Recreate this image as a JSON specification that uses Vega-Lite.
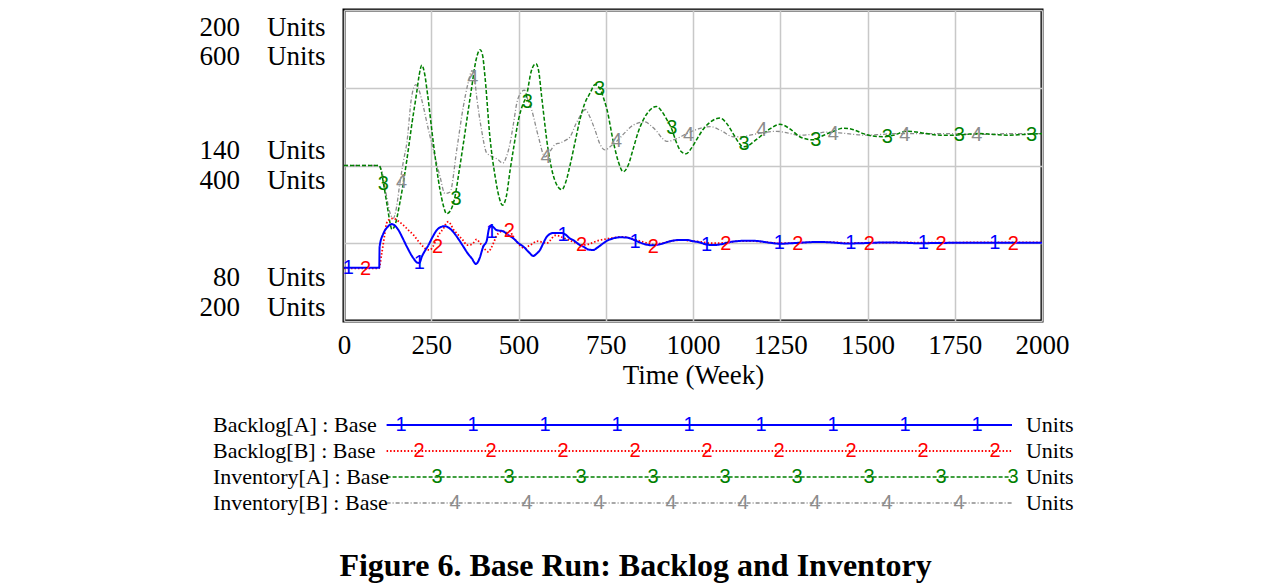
{
"$schema": "https://vega.github.io/schema/vega-lite/v6.json",
"background": "white",
"autosize": {"type": "pad"},
"padding": {"left": 197, "top": 8, "right": 10, "bottom": 5},
"config": {"font": "Liberation Serif", "view": {"stroke": null}},
"title": {"text": "Figure 6. Base Run: Backlog and Inventory", "orient": "bottom", "anchor": "middle", "frame": "bounds", "font": "Liberation Serif", "fontSize": 32, "fontWeight": "bold", "color": "black", "offset": 35},
"datasets": {
"backlog": [
{"s":"2","t":0,"v":100.3},{"s":"2","t":100,"v":100.3},{"s":"2","t":108,"v":106},{"s":"2","t":115,"v":112},{"s":"2","t":122,"v":117.7},{"s":"2","t":131,"v":119.2},{"s":"2","t":141,"v":119.6},{"s":"2","t":155,"v":118.6},{"s":"2","t":170,"v":117},{"s":"2","t":185,"v":115},{"s":"2","t":199,"v":113.2},{"s":"2","t":213,"v":110.8},{"s":"2","t":227,"v":108.7},{"s":"2","t":237,"v":107.6},{"s":"2","t":246,"v":107.4},{"s":"2","t":256,"v":109},{"s":"2","t":266,"v":111.9},{"s":"2","t":275,"v":114},{"s":"2","t":285,"v":115.7},{"s":"2","t":292,"v":117.5},{"s":"2","t":299,"v":118.3},{"s":"2","t":306,"v":117.3},{"s":"2","t":313,"v":115.4},{"s":"2","t":322,"v":114},{"s":"2","t":332,"v":112.5},{"s":"2","t":342,"v":111},{"s":"2","t":352,"v":109.3},{"s":"2","t":362,"v":109.4},{"s":"2","t":371,"v":110.2},{"s":"2","t":380,"v":111.5},{"s":"2","t":390,"v":110},{"s":"2","t":399,"v":108.7},{"s":"2","t":407,"v":107.2},{"s":"2","t":414,"v":106.7},{"s":"2","t":421,"v":108},{"s":"2","t":428,"v":110},{"s":"2","t":437,"v":112.8},{"s":"2","t":447,"v":114.4},{"s":"2","t":456,"v":114.7},{"s":"2","t":465,"v":114},{"s":"2","t":474,"v":114.8},{"s":"2","t":485,"v":112.5},{"s":"2","t":495,"v":110.6},{"s":"2","t":505,"v":109},{"s":"2","t":519,"v":108},{"s":"2","t":530,"v":109},{"s":"2","t":542,"v":110},{"s":"2","t":552,"v":110.8},{"s":"2","t":562,"v":110.6},{"s":"2","t":572,"v":110.3},{"s":"2","t":581,"v":110},{"s":"2","t":590,"v":111},{"s":"2","t":605,"v":113},{"s":"2","t":616,"v":112.8},{"s":"2","t":628,"v":112.1},{"s":"2","t":640,"v":111.5},{"s":"2","t":657,"v":110.5},{"s":"2","t":670,"v":109.8},{"s":"2","t":681,"v":109.3},{"s":"2","t":700,"v":109.6},{"s":"2","t":728,"v":111},{"s":"2","t":745,"v":111.5},{"s":"2","t":762,"v":111.9},{"s":"2","t":780,"v":112.3},{"s":"2","t":800,"v":112.5},{"s":"2","t":820,"v":111.9},{"s":"2","t":838,"v":111.2},{"s":"2","t":860,"v":110.4},{"s":"2","t":886,"v":109.5},{"s":"2","t":910,"v":110},{"s":"2","t":943,"v":111},{"s":"2","t":970,"v":111.2},{"s":"2","t":1000,"v":110.8},{"s":"2","t":1020,"v":110.6},{"s":"2","t":1050,"v":110},{"s":"2","t":1094,"v":110.2},{"s":"2","t":1130,"v":110.8},{"s":"2","t":1170,"v":110.8},{"s":"2","t":1220,"v":110.3},{"s":"2","t":1260,"v":110},{"s":"2","t":1300,"v":110.1},{"s":"2","t":1350,"v":110.5},{"s":"2","t":1400,"v":110.4},{"s":"2","t":1450,"v":110.1},{"s":"2","t":1500,"v":110.2},{"s":"2","t":1600,"v":110.3},{"s":"2","t":1700,"v":110.2},{"s":"2","t":1800,"v":110.3},{"s":"2","t":2000,"v":110.3},
{"s":"1","t":0,"v":100.5},{"s":"1","t":101,"v":100.5},{"s":"1","t":102,"v":108.7},{"s":"1","t":113,"v":113.8},{"s":"1","t":125,"v":116.3},{"s":"1","t":137,"v":117.4},{"s":"1","t":146,"v":116.8},{"s":"1","t":156,"v":115.1},{"s":"1","t":168,"v":112},{"s":"1","t":180,"v":108.7},{"s":"1","t":199,"v":104.2},{"s":"1","t":210,"v":102.5},{"s":"1","t":216,"v":102.4},{"s":"1","t":223,"v":104.8},{"s":"1","t":242,"v":109.3},{"s":"1","t":255,"v":112.7},{"s":"1","t":266,"v":115.1},{"s":"1","t":278,"v":116.3},{"s":"1","t":289,"v":116.6},{"s":"1","t":300,"v":116},{"s":"1","t":313,"v":114.4},{"s":"1","t":327,"v":111.8},{"s":"1","t":342,"v":108.7},{"s":"1","t":355,"v":106},{"s":"1","t":366,"v":104.2},{"s":"1","t":378,"v":102},{"s":"1","t":388,"v":104},{"s":"1","t":399,"v":108.7},{"s":"1","t":409,"v":111},{"s":"1","t":416,"v":115.8},{"s":"1","t":423,"v":116.6},{"s":"1","t":437,"v":115.1},{"s":"1","t":456,"v":114.6},{"s":"1","t":470,"v":113.2},{"s":"1","t":485,"v":111.9},{"s":"1","t":500,"v":110},{"s":"1","t":514,"v":108.7},{"s":"1","t":530,"v":106.5},{"s":"1","t":542,"v":105.1},{"s":"1","t":552,"v":106},{"s":"1","t":562,"v":107.5},{"s":"1","t":571,"v":110},{"s":"1","t":581,"v":112.5},{"s":"1","t":600,"v":114},{"s":"1","t":624,"v":114},{"s":"1","t":635,"v":113.3},{"s":"1","t":647,"v":111.9},{"s":"1","t":657,"v":111.2},{"s":"1","t":676,"v":109.3},{"s":"1","t":686,"v":108.7},{"s":"1","t":700,"v":107.6},{"s":"1","t":714,"v":107.4},{"s":"1","t":728,"v":108.5},{"s":"1","t":743,"v":110},{"s":"1","t":757,"v":111.2},{"s":"1","t":772,"v":111.9},{"s":"1","t":790,"v":112.3},{"s":"1","t":810,"v":112.2},{"s":"1","t":829,"v":111.4},{"s":"1","t":848,"v":110.3},{"s":"1","t":866,"v":109.5},{"s":"1","t":886,"v":109.2},{"s":"1","t":905,"v":109.6},{"s":"1","t":925,"v":110.4},{"s":"1","t":943,"v":111},{"s":"1","t":960,"v":111.3},{"s":"1","t":982,"v":111.3},{"s":"1","t":1000,"v":110.8},{"s":"1","t":1020,"v":110.3},{"s":"1","t":1039,"v":109.5},{"s":"1","t":1058,"v":109.3},{"s":"1","t":1080,"v":109.6},{"s":"1","t":1100,"v":110.3},{"s":"1","t":1135,"v":110.9},{"s":"1","t":1160,"v":111},{"s":"1","t":1182,"v":110.9},{"s":"1","t":1220,"v":110.2},{"s":"1","t":1250,"v":109.8},{"s":"1","t":1280,"v":110},{"s":"1","t":1320,"v":110.3},{"s":"1","t":1360,"v":110.5},{"s":"1","t":1400,"v":110.3},{"s":"1","t":1440,"v":109.9},{"s":"1","t":1480,"v":110},{"s":"1","t":1550,"v":110.3},{"s":"1","t":1600,"v":110.2},{"s":"1","t":1650,"v":110},{"s":"1","t":1700,"v":110.1},{"s":"1","t":1800,"v":110.2},{"s":"1","t":1900,"v":110.2},{"s":"1","t":2000,"v":110.2}
],
"inventory": [
{"s":"4","t":0,"v":400},{"s":"4","t":100,"v":400},{"s":"4","t":110,"v":390},{"s":"4","t":120,"v":365},{"s":"4","t":130,"v":342},{"s":"4","t":141,"v":332},{"s":"4","t":150,"v":345},{"s":"4","t":160,"v":377},{"s":"4","t":170,"v":405},{"s":"4","t":180,"v":429},{"s":"4","t":194,"v":489},{"s":"4","t":206,"v":504},{"s":"4","t":215,"v":497},{"s":"4","t":223,"v":484},{"s":"4","t":242,"v":446},{"s":"4","t":256,"v":420},{"s":"4","t":275,"v":386},{"s":"4","t":289,"v":364},{"s":"4","t":304,"v":366},{"s":"4","t":323,"v":420},{"s":"4","t":342,"v":476},{"s":"4","t":355,"v":505},{"s":"4","t":367,"v":522},{"s":"4","t":374,"v":512},{"s":"4","t":380,"v":489},{"s":"4","t":394,"v":446},{"s":"4","t":409,"v":416},{"s":"4","t":428,"v":411},{"s":"4","t":440,"v":408},{"s":"4","t":455,"v":403},{"s":"4","t":466,"v":412},{"s":"4","t":476,"v":429},{"s":"4","t":486,"v":455},{"s":"4","t":495,"v":480},{"s":"4","t":506,"v":493},{"s":"4","t":517,"v":497},{"s":"4","t":527,"v":484},{"s":"4","t":538,"v":471},{"s":"4","t":557,"v":437},{"s":"4","t":576,"v":411},{"s":"4","t":590,"v":418},{"s":"4","t":605,"v":427},{"s":"4","t":619,"v":429},{"s":"4","t":633,"v":432},{"s":"4","t":648,"v":437},{"s":"4","t":665,"v":454},{"s":"4","t":680,"v":466},{"s":"4","t":691,"v":472},{"s":"4","t":705,"v":462},{"s":"4","t":719,"v":446},{"s":"4","t":733,"v":428},{"s":"4","t":748,"v":420},{"s":"4","t":765,"v":425},{"s":"4","t":781,"v":431},{"s":"4","t":800,"v":440},{"s":"4","t":829,"v":452},{"s":"4","t":862,"v":456},{"s":"4","t":880,"v":451},{"s":"4","t":896,"v":444},{"s":"4","t":910,"v":436},{"s":"4","t":925,"v":431},{"s":"4","t":950,"v":434},{"s":"4","t":982,"v":441},{"s":"4","t":1015,"v":447},{"s":"4","t":1049,"v":450},{"s":"4","t":1080,"v":445},{"s":"4","t":1115,"v":437},{"s":"4","t":1140,"v":437},{"s":"4","t":1163,"v":439},{"s":"4","t":1200,"v":442},{"s":"4","t":1240,"v":444},{"s":"4","t":1270,"v":442},{"s":"4","t":1306,"v":439},{"s":"4","t":1340,"v":440},{"s":"4","t":1383,"v":443},{"s":"4","t":1420,"v":442},{"s":"4","t":1460,"v":440},{"s":"4","t":1497,"v":439},{"s":"4","t":1540,"v":440},{"s":"4","t":1574,"v":441},{"s":"4","t":1620,"v":441},{"s":"4","t":1680,"v":441},{"s":"4","t":1726,"v":441},{"s":"4","t":1800,"v":440},{"s":"4","t":1850,"v":440},{"s":"4","t":1900,"v":441},{"s":"4","t":2000,"v":441},
{"s":"3","t":0,"v":400},{"s":"3","t":100,"v":400},{"s":"3","t":105,"v":396},{"s":"3","t":113,"v":377},{"s":"3","t":125,"v":345},{"s":"3","t":132,"v":326},{"s":"3","t":137,"v":318},{"s":"3","t":145,"v":322},{"s":"3","t":160,"v":352},{"s":"3","t":180,"v":407},{"s":"3","t":195,"v":455},{"s":"3","t":208,"v":493},{"s":"3","t":215,"v":515},{"s":"3","t":223,"v":529},{"s":"3","t":231,"v":518},{"s":"3","t":239,"v":493},{"s":"3","t":256,"v":429},{"s":"3","t":275,"v":369},{"s":"3","t":285,"v":348},{"s":"3","t":294,"v":338},{"s":"3","t":305,"v":342},{"s":"3","t":318,"v":360},{"s":"3","t":330,"v":393},{"s":"3","t":342,"v":428},{"s":"3","t":355,"v":468},{"s":"3","t":366,"v":501},{"s":"3","t":378,"v":535},{"s":"3","t":390,"v":549},{"s":"3","t":397,"v":542},{"s":"3","t":404,"v":514},{"s":"3","t":418,"v":437},{"s":"3","t":433,"v":386},{"s":"3","t":444,"v":360},{"s":"3","t":454,"v":349},{"s":"3","t":465,"v":360},{"s":"3","t":476,"v":394},{"s":"3","t":488,"v":428},{"s":"3","t":500,"v":459},{"s":"3","t":512,"v":478},{"s":"3","t":523,"v":490},{"s":"3","t":537,"v":522},{"s":"3","t":550,"v":531},{"s":"3","t":558,"v":521},{"s":"3","t":566,"v":490},{"s":"3","t":585,"v":420},{"s":"3","t":604,"v":381},{"s":"3","t":624,"v":369},{"s":"3","t":635,"v":378},{"s":"3","t":647,"v":399},{"s":"3","t":662,"v":430},{"s":"3","t":676,"v":459},{"s":"3","t":690,"v":480},{"s":"3","t":705,"v":493},{"s":"3","t":719,"v":504},{"s":"3","t":733,"v":499},{"s":"3","t":745,"v":485},{"s":"3","t":753,"v":473},{"s":"3","t":772,"v":430},{"s":"3","t":786,"v":405},{"s":"3","t":800,"v":392},{"s":"3","t":814,"v":400},{"s":"3","t":829,"v":422},{"s":"3","t":843,"v":443},{"s":"3","t":858,"v":459},{"s":"3","t":876,"v":471},{"s":"3","t":895,"v":476},{"s":"3","t":910,"v":470},{"s":"3","t":925,"v":459},{"s":"3","t":939,"v":447},{"s":"3","t":953,"v":429},{"s":"3","t":966,"v":418},{"s":"3","t":980,"v":415},{"s":"3","t":995,"v":422},{"s":"3","t":1010,"v":433},{"s":"3","t":1030,"v":447},{"s":"3","t":1050,"v":456},{"s":"3","t":1077,"v":461},{"s":"3","t":1095,"v":455},{"s":"3","t":1115,"v":441},{"s":"3","t":1130,"v":430},{"s":"3","t":1144,"v":424},{"s":"3","t":1160,"v":426},{"s":"3","t":1175,"v":431},{"s":"3","t":1192,"v":437},{"s":"3","t":1220,"v":447},{"s":"3","t":1249,"v":453},{"s":"3","t":1275,"v":448},{"s":"3","t":1306,"v":437},{"s":"3","t":1325,"v":434},{"s":"3","t":1345,"v":433},{"s":"3","t":1370,"v":438},{"s":"3","t":1402,"v":444},{"s":"3","t":1431,"v":448},{"s":"3","t":1460,"v":446},{"s":"3","t":1488,"v":441},{"s":"3","t":1515,"v":438},{"s":"3","t":1545,"v":437},{"s":"3","t":1575,"v":439},{"s":"3","t":1612,"v":444},{"s":"3","t":1640,"v":443},{"s":"3","t":1669,"v":441},{"s":"3","t":1710,"v":439},{"s":"3","t":1746,"v":439},{"s":"3","t":1780,"v":440},{"s":"3","t":1820,"v":441},{"s":"3","t":1860,"v":440},{"s":"3","t":1900,"v":439},{"s":"3","t":1950,"v":440},{"s":"3","t":2000,"v":441}
],
"backlog_markers": [
{"s":"1","t":12,"v":100.5},{"s":"1","t":216,"v":102.4},{"s":"1","t":423,"v":114.4},{"s":"1","t":628,"v":113.2},{"s":"1","t":834,"v":110.6},{"s":"1","t":1039,"v":109.5},{"s":"1","t":1247,"v":110},{"s":"1","t":1452,"v":110},{"s":"1","t":1660,"v":110},{"s":"1","t":1865,"v":110},
{"s":"2","t":62,"v":100},{"s":"2","t":268,"v":108.7},{"s":"2","t":474,"v":114.8},{"s":"2","t":681,"v":109.3},{"s":"2","t":886,"v":108.7},{"s":"2","t":1094,"v":109.8},{"s":"2","t":1300,"v":109.8},{"s":"2","t":1505,"v":109.8},{"s":"2","t":1711,"v":109.8},{"s":"2","t":1918,"v":109.8}
],
"inventory_markers": [
{"s":"3","t":113,"v":376},{"s":"3","t":321,"v":357},{"s":"3","t":525,"v":482},{"s":"3","t":732,"v":499},{"s":"3","t":939,"v":448},{"s":"3","t":1146,"v":428},{"s":"3","t":1352,"v":433},{"s":"3","t":1557,"v":437},{"s":"3","t":1763,"v":439},{"s":"3","t":1970,"v":439},
{"s":"4","t":165,"v":379},{"s":"4","t":369,"v":513},{"s":"4","t":579,"v":411},{"s":"4","t":781,"v":431},{"s":"4","t":987,"v":439},{"s":"4","t":1197,"v":446},{"s":"4","t":1402,"v":441},{"s":"4","t":1607,"v":439},{"s":"4","t":1813,"v":439}
],
"legend": [
{"s":"1","name":"Backlog[A] : Base","unit":"Units"},
{"s":"2","name":"Backlog[B] : Base","unit":"Units"},
{"s":"3","name":"Inventory[A] : Base","unit":"Units"},
{"s":"4","name":"Inventory[B] : Base","unit":"Units"}
],
"legend_marks": [
{"s":"1","k":1},{"s":"1","k":2},{"s":"1","k":3},{"s":"1","k":4},{"s":"1","k":5},{"s":"1","k":6},{"s":"1","k":7},{"s":"1","k":8},{"s":"1","k":9},
{"s":"2","k":1},{"s":"2","k":2},{"s":"2","k":3},{"s":"2","k":4},{"s":"2","k":5},{"s":"2","k":6},{"s":"2","k":7},{"s":"2","k":8},{"s":"2","k":9},
{"s":"3","k":1},{"s":"3","k":2},{"s":"3","k":3},{"s":"3","k":4},{"s":"3","k":5},{"s":"3","k":6},{"s":"3","k":7},{"s":"3","k":8},{"s":"3","k":9},
{"s":"4","k":1},{"s":"4","k":2},{"s":"4","k":3},{"s":"4","k":4},{"s":"4","k":5},{"s":"4","k":6},{"s":"4","k":7},{"s":"4","k":8}
]
},
"spacing": 22,
"resolve": {"scale": {"x": "independent", "y": "independent", "color": "shared", "strokeDash": "shared", "strokeWidth": "shared"}},
"vconcat": [
{
"width": 698, "height": 311,
"view": {"stroke": "black", "strokeWidth": 3},
"resolve": {"scale": {"y": "independent"}},
"layer": [
{
"layer": [
{"data": {"name": "inventory"},
 "mark": {"type": "line", "interpolate": "monotone"},
 "encoding": {
  "x": {"field": "t", "type": "quantitative", "scale": {"domain": [0, 2000], "nice": false, "zero": false},
   "axis": {"values": [0,250,500,750,1000,1250,1500,1750,2000], "grid": true, "gridColor": "#c8c8c8", "gridWidth": 1.5, "ticks": false, "domain": false, "labelFont": "Liberation Serif", "labelFontSize": 27, "labelColor": "black", "labelPadding": 11, "labelFlush": false, "labelOverlap": false, "format": "d", "title": "Time (Week)", "titleFont": "Liberation Serif", "titleFontSize": 27, "titleFontWeight": "normal", "titleColor": "black", "titlePadding": 4}},
  "y": {"field": "v", "type": "quantitative", "scale": {"domain": [200, 600], "nice": false, "zero": false},
   "axis": {"orient": "left", "values": [200, 400, 600], "grid": false, "ticks": false, "domain": false, "title": null, "labelFont": "Liberation Serif", "labelFontSize": 27, "labelColor": "black", "labelPadding": 19, "labelBaseline": "middle", "labelOverlap": false, "labelExpr": "datum.value + '\u00a0\u00a0\u00a0\u00a0Units'",
    "labelOffset": {"condition": [{"test": "datum.value == 600", "value": 46}, {"test": "datum.value == 400", "value": 15}], "value": -14}}},
  "color": {"field": "s", "type": "nominal", "scale": {"domain": ["1","2","3","4"], "range": ["#0000ff","#ff0000","#008000","#8c8c8c"]}, "legend": null},
  "strokeDash": {"field": "s", "type": "nominal", "scale": {"domain": ["1","2","3","4"], "range": [[1,0],[1.5,2],[4,2],[4,2,1,2]]}, "legend": null},
  "strokeWidth": {"field": "s", "type": "nominal", "scale": {"domain": ["1","2","3","4"], "range": [2, 1.3, 1.6, 1.3]}, "legend": null}
 }},
{"data": {"name": "inventory_markers"},
 "mark": {"type": "text", "font": "Liberation Sans", "fontSize": 20, "align": "center", "baseline": "middle"},
 "encoding": {
  "x": {"field": "t", "type": "quantitative", "scale": {"domain": [0, 2000], "nice": false, "zero": false}},
  "y": {"field": "v", "type": "quantitative", "scale": {"domain": [200, 600], "nice": false, "zero": false}},
  "text": {"field": "s"},
  "color": {"field": "s", "type": "nominal", "scale": {"domain": ["1","2","3","4"], "range": ["#0000ff","#ff0000","#008000","#8c8c8c"]}, "legend": null}
 }}
]
},
{
"layer": [
{"data": {"name": "backlog"},
 "mark": {"type": "line", "interpolate": "monotone"},
 "encoding": {
  "x": {"field": "t", "type": "quantitative", "scale": {"domain": [0, 2000], "nice": false, "zero": false}},
  "y": {"field": "v", "type": "quantitative", "scale": {"domain": [80, 200], "nice": false, "zero": false},
   "axis": {"orient": "left", "values": [80, 110, 140, 170, 200], "grid": true, "gridColor": "#c8c8c8", "gridWidth": 1.5, "ticks": false, "domain": false, "title": null, "labelFont": "Liberation Serif", "labelFontSize": 27, "labelColor": "black", "labelPadding": 19, "labelBaseline": "middle", "labelOverlap": false,
    "labelExpr": "(datum.value == 80 || datum.value == 140 || datum.value == 200) ? datum.value + '\u00a0\u00a0\u00a0\u00a0Units' : ''",
    "labelOffset": {"condition": [{"test": "datum.value == 200", "value": 17}, {"test": "datum.value == 140", "value": -15}], "value": -44}}},
  "color": {"field": "s", "type": "nominal", "scale": {"domain": ["1","2","3","4"], "range": ["#0000ff","#ff0000","#008000","#8c8c8c"]}, "legend": null},
  "strokeDash": {"field": "s", "type": "nominal", "scale": {"domain": ["1","2","3","4"], "range": [[1,0],[1.5,2],[4,2],[4,2,1,2]]}, "legend": null},
  "strokeWidth": {"field": "s", "type": "nominal", "scale": {"domain": ["1","2","3","4"], "range": [2, 1.3, 1.6, 1.3]}, "legend": null}
 }},
{"data": {"name": "backlog_markers"},
 "mark": {"type": "text", "font": "Liberation Sans", "fontSize": 20, "align": "center", "baseline": "middle"},
 "encoding": {
  "x": {"field": "t", "type": "quantitative", "scale": {"domain": [0, 2000], "nice": false, "zero": false}},
  "y": {"field": "v", "type": "quantitative", "scale": {"domain": [80, 200], "nice": false, "zero": false}},
  "text": {"field": "s"},
  "color": {"field": "s", "type": "nominal", "scale": {"domain": ["1","2","3","4"], "range": ["#0000ff","#ff0000","#008000","#8c8c8c"]}, "legend": null}
 }}
]
}
]
},
{
"width": 698, "height": 104,
"view": {"stroke": null},
"layer": [
{"data": {"name": "legend"},
 "mark": {"type": "rule"},
 "encoding": {
  "x": {"datum": 0.8, "type": "quantitative", "scale": {"domain": [0.2083, 9.9028], "nice": false, "zero": false}, "axis": null},
  "x2": {"datum": 9.486},
  "y": {"field": "s", "type": "nominal", "scale": {"type": "point", "padding": 0.5}, "axis": null},
  "color": {"field": "s", "type": "nominal", "scale": {"domain": ["1","2","3","4"], "range": ["#0000ff","#ff0000","#008000","#8c8c8c"]}, "legend": null},
  "strokeDash": {"field": "s", "type": "nominal", "scale": {"domain": ["1","2","3","4"], "range": [[1,0],[1.5,2],[4,2],[4,2,1,2]]}, "legend": null},
  "strokeWidth": {"field": "s", "type": "nominal", "scale": {"domain": ["1","2","3","4"], "range": [2, 1.3, 1.6, 1.3]}, "legend": null}
 }},
{"data": {"name": "legend"},
 "mark": {"type": "text", "align": "left", "baseline": "middle", "font": "Liberation Serif", "fontSize": 22, "color": "black"},
 "encoding": {
  "x": {"datum": -1.611, "type": "quantitative", "scale": {"domain": [0.2083, 9.9028], "nice": false, "zero": false}, "axis": null},
  "y": {"field": "s", "type": "nominal", "scale": {"type": "point", "padding": 0.5}, "axis": null},
  "text": {"field": "name"}
 }},
{"data": {"name": "legend"},
 "mark": {"type": "text", "align": "left", "baseline": "middle", "font": "Liberation Serif", "fontSize": 22, "color": "black"},
 "encoding": {
  "x": {"datum": 9.68, "type": "quantitative", "scale": {"domain": [0.2083, 9.9028], "nice": false, "zero": false}, "axis": null},
  "y": {"field": "s", "type": "nominal", "scale": {"type": "point", "padding": 0.5}, "axis": null},
  "text": {"field": "unit"}
 }},
{"data": {"name": "legend_marks"},
 "transform": [{"calculate": "datum.k + (toNumber(datum.s) - 1) * 0.25", "as": "slot"}],
 "mark": {"type": "text", "align": "center", "baseline": "middle", "font": "Liberation Sans", "fontSize": 20},
 "encoding": {
  "x": {"field": "slot", "type": "quantitative", "scale": {"domain": [0.2083, 9.9028], "nice": false, "zero": false}, "axis": null},
  "y": {"field": "s", "type": "nominal", "scale": {"type": "point", "padding": 0.5}, "axis": null},
  "text": {"field": "s"},
  "color": {"field": "s", "type": "nominal", "scale": {"domain": ["1","2","3","4"], "range": ["#0000ff","#ff0000","#008000","#8c8c8c"]}, "legend": null}
 }}
]
}
]
}
